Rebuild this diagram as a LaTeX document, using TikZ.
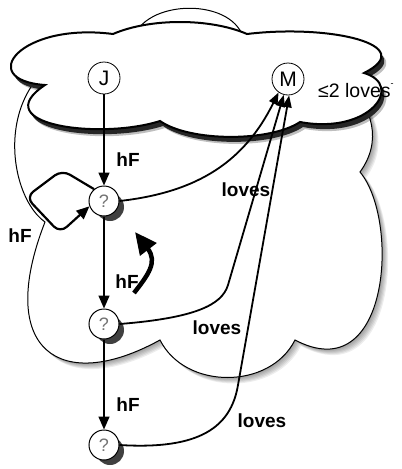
\documentclass[tikz,border=0pt]{standalone}
\usepackage{fontspec}
\setmainfont{Liberation Sans}
\usetikzlibrary{arrows.meta}
\begin{document}
\begin{tikzpicture}[x=1pt,y=-1pt,
  topcloud/.pic={\path[pic actions] (113,34) .. controls (150,18) and (210,18) .. (247,34)
      .. controls (330,24) and (420,45) .. (364,73)
      .. controls (405,85) and (370,135) .. (300,122)
      .. controls (270,142) and (190,142) .. (160,121)
      .. controls (100,140) and (-15,125) .. (45,85)
      .. controls (-25,80) and (20,22) .. (113,34) -- cycle;},
  midcloud/.pic={\path[pic actions] (132,42) .. controls (142,-3) and (238,-3) .. (244,42)
      .. controls (320,40) and (405,110) .. (360,172)
      .. controls (400,220) and (390,390) .. (295,340)
      .. controls (270,390) and (185,390) .. (160,340)
      .. controls (60,395) and (-5,350) .. (45,222)
      .. controls (0,190) and (-12,40) .. (132,42) -- cycle;},
  jm/.style={circle, draw, line width=0.8pt, fill=white, minimum size=32pt, inner sep=0pt, font=\fontsize{21}{21}\selectfont},
  qn/.style={circle, draw, line width=1pt, fill=white, minimum size=30pt, inner sep=0pt, text=black!55, font=\fontsize{18}{18}\selectfont},
  qshadow/.style={circle, fill=black!75, minimum size=28pt, inner sep=0pt},
  hfarrow/.style={line width=1.4pt, -{Triangle[length=13pt,width=11pt]}},
  lovesarrow/.style={line width=1.8pt, -{Triangle[length=12pt,width=9pt]}},
  lbl/.style={font=\bfseries\fontsize{19}{19}\selectfont, inner sep=0pt}]
\useasboundingbox (0,0) rectangle (402,469);
\fill[white] (0,0) rectangle (402,469);
% middle cloud with soft shadow
\foreach \s in {1,2,3,4,5,6}{
  \pic[fill=black, fill opacity=0.07] at (\s,\s) {midcloud};
}
\pic[fill=white, draw=black, line width=1pt] at (0,0) {midcloud};
% top cloud with dark shadow
\pic[fill=black, fill opacity=0.25] at (5,7) {topcloud};
\pic[fill=black!85] at (3,5) {topcloud};
\pic[fill=white, draw=black, line width=2pt] at (0,0) {topcloud};
% nodes
\node[jm] (J) at (104,78) {J};
\node[jm] (M) at (288,79) {M};
\node[qshadow] (q1s) at (110,207) {};
\node[qshadow] (q2s) at (110,330) {};
\node[qshadow] (q3s) at (110,451) {};
\node[qn] (q1) at (104,201) {?};
\node[qn] (q2) at (104,324) {?};
\node[qn] (q3) at (104,445) {?};
% hF edges
\draw[hfarrow] (J) -- (q1);
\draw[hfarrow] (q1) -- (q2);
\draw[hfarrow] (q2) -- (q3);
\draw[line width=2.2pt, rounded corners=9pt, -{Triangle[length=13pt,width=11pt]}]
  (q1.130) -- (62,170) -- (26,197) -- (60,233) -- (q1.200);
% loves edges
\draw[lovesarrow] (q1.east) .. controls (200,192) and (245,160) .. (M.235);
\draw[lovesarrow] (q2.east) .. controls (195,318) and (222,305) .. (228,285) -- (M.255);
\draw[lovesarrow] (q3.east) .. controls (200,450) and (231,427) .. (238,385) -- (M.274);
% thick curved arrow
\draw[line width=4.5pt, -{Triangle[length=22pt,width=20pt]}] (134,293) .. controls (148,275) and (158,262) .. (135,232);
% labels
\node[lbl] (l1) at (128,160) {hF};
\node[lbl] (l2) at (20,236) {hF};
\node[lbl] (l3) at (127,282) {hF};
\node[lbl] (l4) at (128,405) {hF};
\node[lbl] (v1) at (246,190) {loves};
\node[lbl] (v2) at (217,328) {loves};
\node[lbl] (v3) at (262,421) {loves};
\node[font=\fontsize{19.5}{19.5}\selectfont, inner sep=0pt, anchor=west] (k) at (318,91) {≤2 loves\raisebox{1.1ex}{\fontsize{9}{9}\selectfont -}};
\end{tikzpicture}
\end{document}
